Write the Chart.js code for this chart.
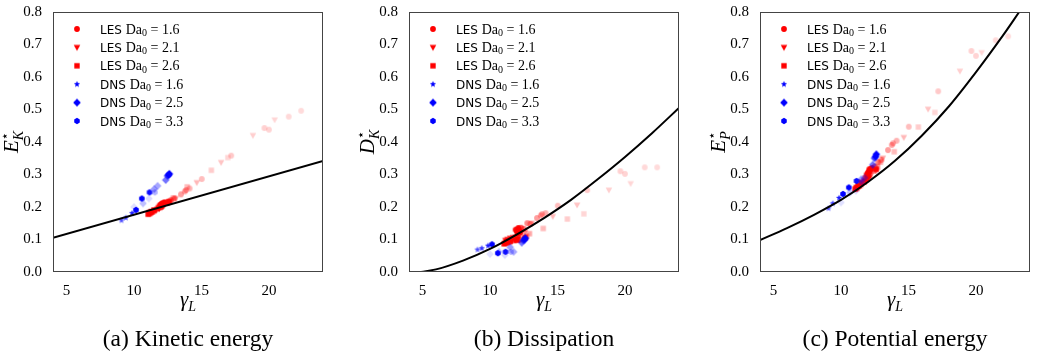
<!DOCTYPE html>
<html>
<head>
<meta charset="utf-8">
<script src="https://cdn.jsdelivr.net/npm/chart.js@4.4.1/dist/chart.umd.min.js"></script>
<style>
html, body { margin: 0; padding: 0; background: #fff; }
#wrap { position: relative; width: 1037px; height: 360px; overflow: hidden; }
canvas { position: absolute; top: 0; }
</style>
</head>
<body>
<div id="wrap">
  <canvas id="chartA" width="346" height="360" style="left:0px"></canvas>
  <canvas id="chartB" width="346" height="360" style="left:346px"></canvas>
  <canvas id="chartC" width="345" height="360" style="left:692px"></canvas>
</div>
<script>
// axis ticks
const xTicks = [5, 10, 15, 20];
const yTicks = [0, 0.1, 0.2, 0.3, 0.4, 0.5, 0.6, 0.7, 0.8];

// LES Da0 = 1.6 (circles)
const les16Gamma = [22.38, 21.46, 20.00, 19.66, 17.20, 15.02, 14.12, 13.86, 13.76, 13.48, 13.00, 12.76, 12.50, 12.30, 12.15, 12.00, 11.90, 12.10, 12.25, 12.05];
const les16EK = [0.496, 0.478, 0.438, 0.443, 0.358, 0.286, 0.257, 0.252, 0.248, 0.239, 0.226, 0.222, 0.216, 0.213, 0.210, 0.207, 0.205, 0.211, 0.214, 0.209];
const les16DK = [0.322, 0.322, 0.302, 0.310, 0.252, 0.204, 0.181, 0.178, 0.174, 0.166, 0.148, 0.150, 0.133, 0.136, 0.128, 0.125, 0.130, 0.135, 0.122, 0.118];
const les16EP = [0.725, 0.713, 0.665, 0.680, 0.556, 0.447, 0.404, 0.396, 0.391, 0.375, 0.345, 0.338, 0.325, 0.320, 0.312, 0.305, 0.300, 0.316, 0.318, 0.308];
const les16Alpha = [0.14, 0.15, 0.17, 0.18, 0.21, 0.26, 0.3, 0.32, 0.35, 0.38, 0.42, 0.48, 0.55, 0.65, 0.75, 0.85, 0.95, 1, 1, 1];

// LES Da0 = 2.1 (triangles down)
const les21Gamma = [20.42, 18.81, 16.45, 14.65, 13.09, 12.60, 12.20, 11.90, 11.70, 11.50, 11.30, 11.15, 11.60, 11.85, 12.05];
const les21EK = [0.468, 0.420, 0.337, 0.275, 0.226, 0.212, 0.203, 0.197, 0.193, 0.190, 0.186, 0.183, 0.189, 0.194, 0.199];
const les21DK = [0.272, 0.252, 0.206, 0.171, 0.150, 0.122, 0.112, 0.108, 0.106, 0.104, 0.100, 0.097, 0.094, 0.099, 0.103];
const les21EP = [0.675, 0.618, 0.501, 0.414, 0.350, 0.312, 0.297, 0.287, 0.281, 0.274, 0.266, 0.260, 0.270, 0.278, 0.288];
const les21Alpha = [0.16, 0.19, 0.23, 0.28, 0.36, 0.45, 0.55, 0.65, 0.75, 0.85, 0.95, 1, 1, 1, 1];

// LES Da0 = 2.6 (squares)
const les26Gamma = [16.95, 15.73, 13.94, 12.92, 12.70, 12.40, 12.10, 11.80, 11.50, 11.25, 11.05, 11.15, 11.35, 12.00, 12.60];
const les26EK = [0.352, 0.313, 0.262, 0.228, 0.219, 0.212, 0.205, 0.198, 0.190, 0.183, 0.178, 0.180, 0.185, 0.201, 0.216];
const les26DK = [0.179, 0.163, 0.134, 0.118, 0.110, 0.101, 0.098, 0.097, 0.095, 0.091, 0.087, 0.089, 0.092, 0.099, 0.106];
const les26EP = [0.491, 0.446, 0.370, 0.338, 0.322, 0.311, 0.300, 0.289, 0.276, 0.263, 0.255, 0.258, 0.265, 0.296, 0.316];
const les26Alpha = [0.16, 0.2, 0.27, 0.35, 0.45, 0.55, 0.65, 0.75, 0.85, 0.95, 1, 1, 1, 1, 1];

// DNS Da0 = 1.6 (stars)
const dns16Gamma = [9.07, 9.39, 9.86];
const dns16EK = [0.159, 0.167, 0.181];
const dns16DK = [0.069, 0.073, 0.081];
const dns16EP = [0.196, 0.211, 0.228];
const dns16Alpha = [0.7, 0.8, 0.9];

// DNS Da0 = 2.5 (diamonds)
const dns25Gamma = [10.00, 10.67, 11.10, 11.50, 11.75, 12.35, 12.48, 12.62, 12.56];
const dns25EK = [0.200, 0.211, 0.226, 0.255, 0.265, 0.283, 0.296, 0.302, 0.298];
const dns25DK = [0.055, 0.062, 0.052, 0.076, 0.062, 0.090, 0.097, 0.104, 0.100];
const dns25EP = [0.214, 0.245, 0.250, 0.285, 0.290, 0.330, 0.350, 0.362, 0.355];
const dns25Alpha = [0.12, 0.25, 0.15, 0.4, 0.35, 0.55, 0.7, 1, 1];

// DNS Da0 = 3.3 (hexagons)
const dns33Gamma = [10.15, 10.58, 11.15, 11.55];
const dns33EK = [0.191, 0.226, 0.245, 0.245];
const dns33DK = [0.085, 0.058, 0.062, 0.062];
const dns33EP = [0.240, 0.260, 0.280, 0.275];
const dns33Alpha = [1, 1, 0.95, 0.3];

// fitted curves
const fitEKGamma = [4, 24];
const fitEK = [0.105, 0.342];
const fitDKGamma = [4.9, 6, 8, 10, 12, 14, 16, 18, 20, 22, 24];
const fitDK = [0, 0.008, 0.035, 0.071, 0.116, 0.166, 0.222, 0.286, 0.354, 0.427, 0.505];
const fitEPGamma = [4, 6, 8, 10, 12, 14, 16, 18, 20, 22, 23.2];
const fitEP = [0.098, 0.135, 0.176, 0.222, 0.277, 0.342, 0.42, 0.51, 0.615, 0.728, 0.8];

const series = [
    { label: 'LES', da: '1.6', shape: 'circle', rgb: '255,0,0', gamma: les16Gamma, EK: les16EK, DK: les16DK, EP: les16EP, alpha: les16Alpha },
    { label: 'LES', da: '2.1', shape: 'triDown', rgb: '255,0,0', gamma: les21Gamma, EK: les21EK, DK: les21DK, EP: les21EP, alpha: les21Alpha },
    { label: 'LES', da: '2.6', shape: 'square', rgb: '255,0,0', gamma: les26Gamma, EK: les26EK, DK: les26DK, EP: les26EP, alpha: les26Alpha },
    { label: 'DNS', da: '1.6', shape: 'star', rgb: '0,0,255', gamma: dns16Gamma, EK: dns16EK, DK: dns16DK, EP: dns16EP, alpha: dns16Alpha },
    { label: 'DNS', da: '2.5', shape: 'diamond', rgb: '0,0,255', gamma: dns25Gamma, EK: dns25EK, DK: dns25DK, EP: dns25EP, alpha: dns25Alpha },
    { label: 'DNS', da: '3.3', shape: 'hexagon', rgb: '0,0,255', gamma: dns33Gamma, EK: dns33EK, DK: dns33DK, EP: dns33EP, alpha: dns33Alpha }
];

const panels = [
    { id: 'chartA', key: 'EK', fitX: fitEKGamma, fitY: fitEK, left: 53, right: 23, letter: 'E', sub: 'K', caption: '(a) Kinetic energy' },
    { id: 'chartB', key: 'DK', fitX: fitDKGamma, fitY: fitDK, left: 63, right: 13, letter: 'D', sub: 'K', caption: '(b) Dissipation' },
    { id: 'chartC', key: 'EP', fitX: fitEPGamma, fitY: fitEP, left: 68, right: 7, letter: 'E', sub: 'P', caption: '(c) Potential energy' }
];

const SERIF = '"Liberation Serif", "DejaVu Serif", serif';

// small canvases used as point styles, one per shape/colour/alpha
const markerCache = {};
function marker(shape, rgb, alpha) {
    const key = shape + rgb + alpha;
    if (markerCache[key]) return markerCache[key];
    const s = 12;
    const c = document.createElement('canvas');
    c.width = s; c.height = s;
    const g = c.getContext('2d');
    g.fillStyle = 'rgba(' + rgb + ',' + alpha + ')';
    g.translate(s / 2, s / 2);
    g.beginPath();
    if (shape === 'circle') {
        g.arc(0, 0, 2.9, 0, Math.PI * 2);
    } else if (shape === 'triDown') {
        g.moveTo(0, 3.4); g.lineTo(-3.3, -2.4); g.lineTo(3.3, -2.4);
    } else if (shape === 'square') {
        g.rect(-2.7, -2.7, 5.4, 5.4);
    } else if (shape === 'star') {
        for (let i = 0; i < 10; i++) {
            const r = i % 2 ? 1.4 : 3.3;
            const a = -Math.PI / 2 + i * Math.PI / 5;
            g.lineTo(r * Math.cos(a), r * Math.sin(a));
        }
    } else if (shape === 'diamond') {
        g.moveTo(0, -4); g.lineTo(3.8, 0); g.lineTo(0, 4); g.lineTo(-3.8, 0);
    } else if (shape === 'hexagon') {
        for (let i = 0; i < 6; i++) {
            const a = -Math.PI / 2 + i * Math.PI / 3;
            g.lineTo(3.2 * Math.cos(a), 3.2 * Math.sin(a));
        }
    }
    g.closePath();
    g.fill();
    markerCache[key] = c;
    return c;
}

// frame, legend, axis labels and caption
const decorPlugin = {
    id: 'decor',
    afterDraw(chart, args, opts) {
        const ctx = chart.ctx;
        const a = chart.chartArea;
        ctx.save();
        ctx.strokeStyle = '#444';
        ctx.lineWidth = 1;
        ctx.strokeRect(Math.round(a.left) + 0.5, Math.round(a.top) + 0.5,
            Math.round(a.right - a.left) - 1, Math.round(a.bottom - a.top) - 1);

        ctx.fillStyle = '#000';
        ctx.textBaseline = 'alphabetic';
        ctx.textAlign = 'left';
        series.forEach((s, i) => {
            const y = a.top + 17 + i * 18.4;
            ctx.drawImage(marker(s.shape, s.rgb, 1), a.left + 24 - 6, y - 6);
            let x = a.left + 47;
            ctx.font = '12px "DejaVu Sans"';
            ctx.fillText(s.label + ' ', x, y + 4.5);
            x += ctx.measureText(s.label + ' ').width;
            ctx.font = '14px ' + SERIF;
            ctx.fillText('Da', x, y + 4.5);
            x += ctx.measureText('Da').width;
            ctx.font = '10px ' + SERIF;
            ctx.fillText('0', x, y + 7);
            x += ctx.measureText('0').width;
            ctx.font = '14px ' + SERIF;
            ctx.fillText(' = ' + s.da, x, y + 4.5);
        });

        // x label: gamma_L
        const cx = (a.left + a.right) / 2;
        ctx.font = 'italic 21px ' + SERIF;
        const wg = ctx.measureText('γ').width;
        ctx.font = 'italic 14px ' + SERIF;
        const wl = ctx.measureText('L').width;
        let x0 = cx - (wg + wl) / 2;
        ctx.font = 'italic 21px ' + SERIF;
        ctx.fillText('γ', x0, 306);
        ctx.font = 'italic 14px ' + SERIF;
        ctx.fillText('L', x0 + wg, 311);

        // y label, rotated
        ctx.save();
        ctx.translate(a.left - 35, (a.top + a.bottom) / 2);
        ctx.rotate(-Math.PI / 2);
        ctx.font = 'italic 21px ' + SERIF;
        const we = ctx.measureText(opts.letter).width;
        ctx.font = 'italic 14px ' + SERIF;
        const ws = ctx.measureText(opts.sub).width;
        x0 = -(we + ws) / 2;
        ctx.font = 'italic 21px ' + SERIF;
        ctx.fillText(opts.letter, x0, 0);
        ctx.font = '13px "DejaVu Sans"';
        ctx.fillText('⋆', x0 + we, -9);
        ctx.font = 'italic 14px ' + SERIF;
        ctx.fillText(opts.sub, x0 + we, 5);
        ctx.restore();

        // caption
        ctx.textAlign = 'center';
        ctx.font = '23.5px ' + SERIF;
        ctx.fillText(opts.caption, cx, 346);
        ctx.restore();
    }
};

panels.forEach(p => {
    const datasets = [{
        type: 'line',
        data: p.fitX.map((g, i) => ({ x: g, y: p.fitY[i] })),
        borderColor: '#000',
        borderWidth: 2,
        pointRadius: 0,
        fill: false,
        cubicInterpolationMode: 'monotone',
        order: 0
    }];
    series.forEach((s, k) => {
        datasets.push({
            type: 'scatter',
            data: s.gamma.map((g, i) => ({ x: g, y: s[p.key][i] })),
            pointStyle: (ctx) => marker(s.shape, s.rgb, ctx.dataIndex === undefined ? 1 : s.alpha[ctx.dataIndex]),
            pointRadius: 3,
            order: 10 - k
        });
    });

    new Chart(document.getElementById(p.id).getContext('2d'), {
        type: 'scatter',
        data: { datasets: datasets },
        plugins: [decorPlugin],
        options: {
            responsive: false,
            animation: false,
            events: [],
            layout: { padding: { left: 0, top: 4, right: p.right, bottom: 0 } },
            plugins: {
                legend: { display: false },
                tooltip: { enabled: false },
                decor: { letter: p.letter, sub: p.sub, caption: p.caption }
            },
            scales: {
                x: {
                    type: 'linear',
                    min: 4,
                    max: 24,
                    grid: { display: false },
                    border: { display: false },
                    afterBuildTicks: (s) => { s.ticks = xTicks.map(v => ({ value: v })); },
                    afterFit: (s) => { s.height = 88; },
                    ticks: {
                        autoSkip: false,
                        maxRotation: 0,
                        padding: 2,
                        color: '#000',
                        font: { family: SERIF, size: 15 }
                    }
                },
                y: {
                    type: 'linear',
                    min: 0,
                    max: 0.8,
                    grid: { display: false },
                    border: { display: false },
                    afterBuildTicks: (s) => { s.ticks = yTicks.map(v => ({ value: v })); },
                    afterFit: (s) => { s.width = p.left; },
                    ticks: {
                        autoSkip: false,
                        padding: 3,
                        color: '#000',
                        font: { family: SERIF, size: 15 },
                        callback: (v) => Number(v).toFixed(1)
                    }
                }
            }
        }
    });
});
</script>
</body>
</html>
